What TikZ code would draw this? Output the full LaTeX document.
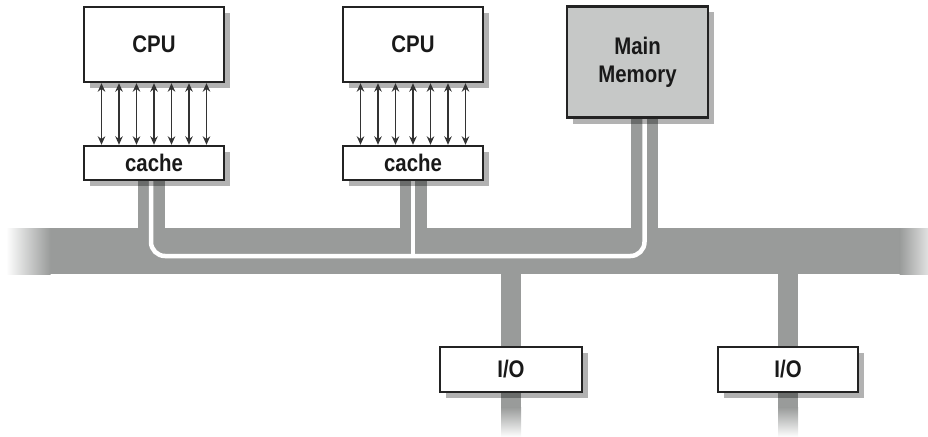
\documentclass[tikz,border=0pt]{standalone}
\usepackage{fontspec}
\setsansfont{Liberation Sans}[FakeStretch=0.85]
\usetikzlibrary{arrows.meta, positioning, calc, shadows}
\definecolor{busgray}{HTML}{999B9A}
\definecolor{memgray}{HTML}{C6C8C7}
\definecolor{boxline}{HTML}{232323}
\pgfdeclarelayer{background}
\pgfsetlayers{background,main}

\begin{document}
\begin{tikzpicture}[
    x=1pt, y=-1pt,
    >={Stealth[length=8.5pt, width=7.5pt]},
    unit/.style={draw=boxline, line width=2.4pt, fill=white, inner sep=0pt,
                 align=center, text=black!90,
                 font=\fontsize{24}{28}\selectfont\sffamily\bfseries,
                 drop shadow={shadow xshift=6pt, shadow yshift=-6pt,
                              fill=black, opacity=0.3}},
    memory/.style={unit, fill=memgray},
    busbar/.style={fill=busgray, inner sep=0pt},
    stub/.style={draw=busgray, line width=27pt},
    iostub/.style={draw=busgray, line width=20pt},
    rail/.style={draw=white, line width=4.5pt, rounded corners=14pt},
    wire/.style={<->, line width=1.3pt, black!80}
  ]
  \useasboundingbox (0,0) rectangle (928,436);

  % Processors with their caches
  \node[unit, minimum width=140pt, minimum height=75pt] (cpuA) at (154,44.5) {CPU};
  \node[unit, minimum width=140pt, minimum height=34pt] (cacheA) at (154,163) {cache};
  \node[unit, minimum width=140pt, minimum height=75pt] (cpuB) at (413,44.5) {CPU};
  \node[unit, minimum width=140pt, minimum height=34pt] (cacheB) at (413,163) {cache};

  % Memory and devices
  \node[memory, minimum width=141pt, minimum height=111pt] (mem) at (637.5,62) {Main\\Memory};
  \node[unit, minimum width=142pt, minimum height=45pt] (ioA) at (511,369.5) {I/O};
  \node[unit, minimum width=140pt, minimum height=45pt] (ioB) at (788,369.5) {I/O};

  % CPU <-> cache lines
  \foreach \c in {A,B}
    \foreach \k in {-3,...,3}
      \draw[wire] ([xshift=\k*17.5pt]cpu\c.south) -- ([xshift=\k*17.5pt]cache\c.north);

  \begin{pgfonlayer}{background}
    % System bus
    \node[busbar, minimum width=850pt, minimum height=46pt] (bus) at (475,251) {};
    \shade[left color=white, right color=busgray] (6,228) rectangle (50.5,274);
    \shade[left color=busgray, right color=white!70!busgray] (899.5,228) rectangle (928,274);

    % Taps onto the bus
    \coordinate (tapA) at ($(cacheA.south)+(-3,0)$);
    \coordinate (tapB) at (cacheB.south);
    \coordinate (tapM) at ($(mem.south)+(7,0)$);
    \foreach \t in {tapA,tapB,tapM}
      \draw[stub] (\t) -- (\t |- bus.center);
    \draw[iostub] (bus.center -| ioA) -- (ioA.north);
    \draw[iostub] (bus.center -| ioB) -- (ioB.north);
    \draw[iostub] (ioA.south) -- ++(0,14);
    \draw[iostub] (ioB.south) -- ++(0,14);
    \shade[top color=busgray, bottom color=white] ($(ioA.south)+(-10,14)$) rectangle ($(ioA.south)+(10,44)$);
    \shade[top color=busgray, bottom color=white] ($(ioB.south)+(-10,14)$) rectangle ($(ioB.south)+(10,44)$);

    % White rail inside the bus
    \draw[rail] (tapA) -- ($(tapA |- bus.center)+(0,5)$)
      -- ($(tapM |- bus.center)+(0,5)$) -- (tapM);
    \draw[draw=white, line width=4.5pt] (tapB) -- ($(tapB |- bus.center)+(0,5)$);
  \end{pgfonlayer}
\end{tikzpicture}
\end{document}
